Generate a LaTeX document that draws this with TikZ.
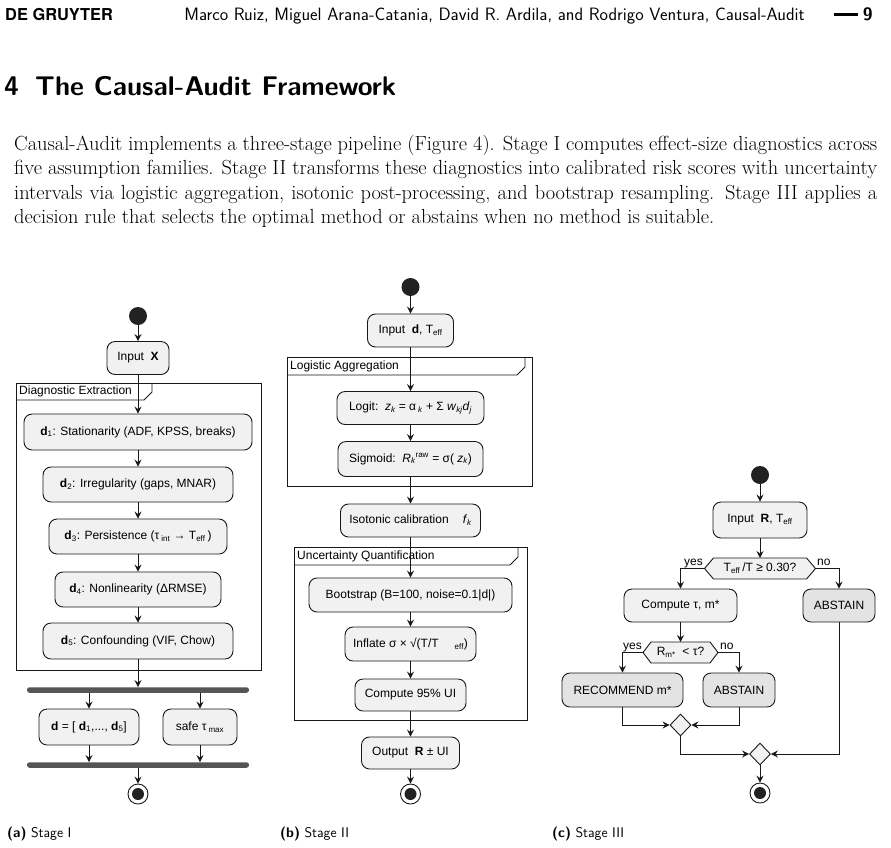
\documentclass[tikz,border=0pt]{standalone}
\usepackage{fontspec}
\newfontfamily\dfont{Liberation Sans}
\newfontfamily\gfont{TeX Gyre Heros}
\usetikzlibrary{arrows.meta,shapes.geometric}
\definecolor{boxfill}{HTML}{F1F1F1}
\definecolor{resfill}{HTML}{E3E3E3}
\definecolor{boxline}{HTML}{181818}
\definecolor{barcol}{HTML}{555555}
\definecolor{dotcol}{HTML}{222222}
\tikzset{
 act/.style={draw=boxline, fill=boxfill, rounded corners=8pt, line width=0.9pt, inner sep=0pt, align=center, font=\dfont\fontsize{12}{14}\selectfont},
 res/.style={act, fill=resfill},
 ar/.style={draw=boxline, line width=0.9pt, -{Stealth[length=7pt,width=7pt,inset=2.5pt]}},
 frm/.style={draw=boxline, line width=0.9pt},
 lbl/.style={font=\dfont\fontsize{12}{14}\selectfont, inner sep=0pt},
 startdot/.style={circle, fill=dotcol, minimum size=18pt, inner sep=0pt},
 enddot/.style={circle, draw=boxline, fill=white, line width=0.9pt, minimum size=20pt, inner sep=0pt, path picture={\fill[dotcol] (path picture bounding box.center) circle (6pt);}},
 barn/.style={fill=barcol, rounded corners=2.5pt, minimum width=222pt, minimum height=5.5pt, inner sep=0pt},
 merge/.style={diamond, draw=boxline, fill=boxfill, line width=0.9pt, minimum width=21pt, minimum height=22pt, inner sep=0pt},
 hexl/.style={draw=boxline, fill=boxfill, line width=0.9pt},
 body/.style={anchor=base west, inner sep=0pt, font=\fontsize{20.4}{24.5}\selectfont},
 capt/.style={anchor=base west, inner sep=0pt, font=\sffamily\fontsize{14}{16}\selectfont},
}
\begin{document}
\begin{tikzpicture}[x=1pt,y=-1pt]
\useasboundingbox (0,0) rectangle (891,847);

% ---------- header ----------
\node[anchor=base west, inner sep=0pt, font=\gfont\bfseries\fontsize{16.4}{18}\selectfont] (hdl) at (5,20) {DE GRUYTER};
\node[anchor=base east, inner sep=0pt, font=\sffamily\fontsize{17.9}{20}\selectfont] (hdm) at (805,20) {Marco Ruiz, Miguel Arana-Catania, David R. Ardila, and Rodrigo Ventura, Causal-Audit};
\fill (834,12.5) rectangle (858,15.5);
\node[anchor=base east, inner sep=0pt, font=\sffamily\bfseries\fontsize{17.9}{20}\selectfont] (pg) at (873,20) {9};

% ---------- heading and paragraph ----------
\node[anchor=base west, inner sep=0pt, font=\sffamily\bfseries\fontsize{27}{31}\selectfont] (hd) at (4,95) {4\hspace{0.6em}The Causal-Audit Framework};
\node[body] (p1) at (14,150) {\makebox[863pt][s]{Causal-Audit implements a three-stage pipeline (Figure 4). Stage I computes effect-size diagnostics across}};
\node[body] (p2) at (14,174.5) {\makebox[863pt][s]{five assumption families. Stage II transforms these diagnostics into calibrated risk scores with uncertainty}};
\node[body] (p3) at (14,199) {\makebox[863pt][s]{intervals via logistic aggregation, isotonic post-processing, and bootstrap resampling. Stage III applies a}};
\node[body] (p4) at (14,223.5) {decision rule that selects the optimal method or abstains when no method is suitable.};

% ---------- Stage I ----------
\node[startdot] (s1) at (138,316) {};
\node[act, minimum width=62pt, minimum height=33pt] (in1) at (138,358) {Input\ \ \textbf{X}};
\draw[frm] (16,383) rectangle (261,670);
\draw[frm] (16,400) -- (144,400) -- (152,392) -- (152,383);
\node[lbl, anchor=west] (t1) at (19,391.5) {Diagnostic Extraction};
\node[act, minimum width=228pt, minimum height=36pt] (d1) at (138,432) {\textbf{d}\textsubscript{1}: Stationarity (ADF, KPSS, breaks)};
\node[act, minimum width=190pt, minimum height=35pt] (d2) at (138,484.5) {\textbf{d}\textsubscript{2}: Irregularity (gaps, MNAR)};
\node[act, minimum width=178pt, minimum height=35pt] (d3) at (138,536.5) {\textbf{d}\textsubscript{3}: Persistence (τ\,\textsubscript{int}\ → T\textsubscript{eff}\,)};
\node[act, minimum width=166pt, minimum height=35pt] (d4) at (138,589.5) {\textbf{d}\textsubscript{4}: Nonlinearity (ΔRMSE)};
\node[act, minimum width=190pt, minimum height=36pt] (d5) at (138,641) {\textbf{d}\textsubscript{5}: Confounding (VIF, Chow)};
\node[barn] (b1) at (138,690) {};
\node[act, minimum width=100pt, minimum height=36pt] (dv) at (89,727) {\textbf{d} = [ \textbf{d}\textsubscript{1},..., \textbf{d}\textsubscript{5}]};
\node[act, minimum width=74pt, minimum height=36pt] (tau) at (200,727) {safe τ\,\textsubscript{max}};
\node[barn] (b2) at (138,765) {};
\node[enddot] (e1) at (138,794) {};

\draw[ar] (s1) -- (in1);
\draw[ar] (in1) -- (d1);
\draw[ar] (d1) -- (d2);
\draw[ar] (d2) -- (d3);
\draw[ar] (d3) -- (d4);
\draw[ar] (d4) -- (d5);
\draw[ar] (d5) -- (b1);
\draw[ar] (b1.south -| dv.north) -- (dv);
\draw[ar] (b1.south -| tau.north) -- (tau);
\draw[ar] (dv) -- (dv.south |- b2.north);
\draw[ar] (tau) -- (tau.south |- b2.north);
\draw[ar] (b2) -- (e1);

\node[capt] (ca) at (7,837) {\textbf{(a)} Stage I};

% ---------- Stage II ----------
\node[startdot] (s2) at (410.5,287) {};
\node[act, minimum width=86pt, minimum height=33pt] (in2) at (410.5,330.5) {Input\ \ \textbf{d}, T\textsubscript{eff}};
\draw[frm] (287,357) rectangle (532,486);
\draw[frm] (287,375) -- (517,375) -- (525,367) -- (525,357);
\node[lbl, anchor=west] (t2) at (290,366) {Logistic Aggregation};
\node[act, minimum width=147pt, minimum height=33pt] (lg) at (410.5,408) {Logit:\ \ \textit{z}\textsubscript{\itshape k} = α\,\textsubscript{\itshape k} + Σ \textit{w}\textsubscript{\itshape kj}\textit{d}\textsubscript{\itshape j}};
\node[act, minimum width=145pt, minimum height=35pt] (sg) at (410.5,459) {Sigmoid:\ \ \textit{R}\textsubscript{\itshape k}\textsuperscript{raw} = σ( \textit{z}\textsubscript{\itshape k})};
\node[act, minimum width=140pt, minimum height=33pt] (iso) at (410.5,520.5) {Isotonic calibration\hspace{14pt}\textit{f}\textsubscript{\itshape k}};
\draw[frm] (294,547) rectangle (527,720);
\draw[frm] (294,565) -- (510,565) -- (518,557) -- (518,547);
\node[lbl, anchor=west] (t3) at (297,556) {Uncertainty Quantification};
\node[act, minimum width=203pt, minimum height=34pt] (bs) at (410.5,595) {Bootstrap (B=100, noise=0.1|d|)};
\node[act, minimum width=131pt, minimum height=34pt] (inf) at (410.5,644) {Inflate σ × √(T/T\hspace{16pt}\textsubscript{eff})};
\node[act, minimum width=111pt, minimum height=32pt] (ci) at (410.5,695) {Compute 95\% UI};
\node[act, minimum width=98pt, minimum height=32pt] (out) at (410.5,753) {Output\ \ \textbf{R} ± UI};
\node[enddot] (e2) at (410.5,794) {};

\draw[ar] (s2) -- (in2);
\draw[ar] (in2) -- (lg);
\draw[ar] (lg) -- (sg);
\draw[ar] (sg) -- (iso);
\draw[ar] (iso) -- (bs);
\draw[ar] (bs) -- (inf);
\draw[ar] (inf) -- (ci);
\draw[ar] (ci) -- (out);
\draw[ar] (out) -- (e2);

\node[capt] (cb) at (280,837) {\textbf{(b)} Stage II};

% ---------- Stage III ----------
\node[startdot] (s3) at (760,475) {};
\node[act, minimum width=94pt, minimum height=36pt] (in3) at (760,520) {Input\ \ \textbf{R}, T\textsubscript{eff}};

\coordinate (h1w) at (704.5,568.5);
\coordinate (h1e) at (815.5,568.5);
\coordinate (h1n) at (760,558);
\draw[hexl] (h1w) -- (713.5,558) -- (806.5,558) -- (h1e) -- (806.5,579) -- (713.5,579) -- cycle;
\node[lbl] (h1) at (760,568.5) {T\textsubscript{eff}\,/T ≥ 0.30?};

\node[act, minimum width=113pt, minimum height=33pt] (comp) at (680.5,605.5) {Compute τ, m*};
\node[res, minimum width=72pt, minimum height=33pt] (ab1) at (839,605.5) {ABSTAIN};

\coordinate (h2w) at (643,652.5);
\coordinate (h2e) at (718,652.5);
\coordinate (h2n) at (680.5,642);
\draw[hexl] (h2w) -- (651,642) -- (710,642) -- (h2e) -- (710,663) -- (651,663) -- cycle;
\node[lbl] (h2) at (680.5,652.5) {R\textsubscript{m*}\ \ < τ?};

\node[res, minimum width=121pt, minimum height=34pt] (rec) at (622.5,690) {RECOMMEND m*};
\node[res, minimum width=72pt, minimum height=34pt] (ab2) at (739,690) {ABSTAIN};

\node[merge] (m1) at (680.5,725) {};
\node[merge] (m2) at (760,754) {};
\node[enddot] (e3) at (760,793) {};

\node[lbl, anchor=base east] (y1) at (703,565) {yes};
\node[lbl, anchor=base west] (n1) at (817,565) {no};
\node[lbl, anchor=base east] (y2) at (642,649.5) {yes};
\node[lbl, anchor=base west] (n2) at (720,649.5) {no};

\draw[ar] (s3) -- (in3);
\draw[ar] (in3) -- (h1n);
\draw[ar] (h1w) -| (comp.north);
\draw[ar] (h1e) -| (ab1.north);
\draw[ar] (comp) -- (h2n);
\draw[ar] (h2w) -| (rec.north);
\draw[ar] (h2e) -| (ab2.north);
\draw[ar] (rec.south) |- (m1.west);
\draw[ar] (ab2.south) |- (m1.east);
\draw[ar] (m1.south) |- (m2.west);
\draw[ar] (ab1.south) |- (m2.east);
\draw[ar] (m2) -- (e3);

\node[capt] (cc) at (552,837) {\textbf{(c)} Stage III};
\end{tikzpicture}
\end{document}
